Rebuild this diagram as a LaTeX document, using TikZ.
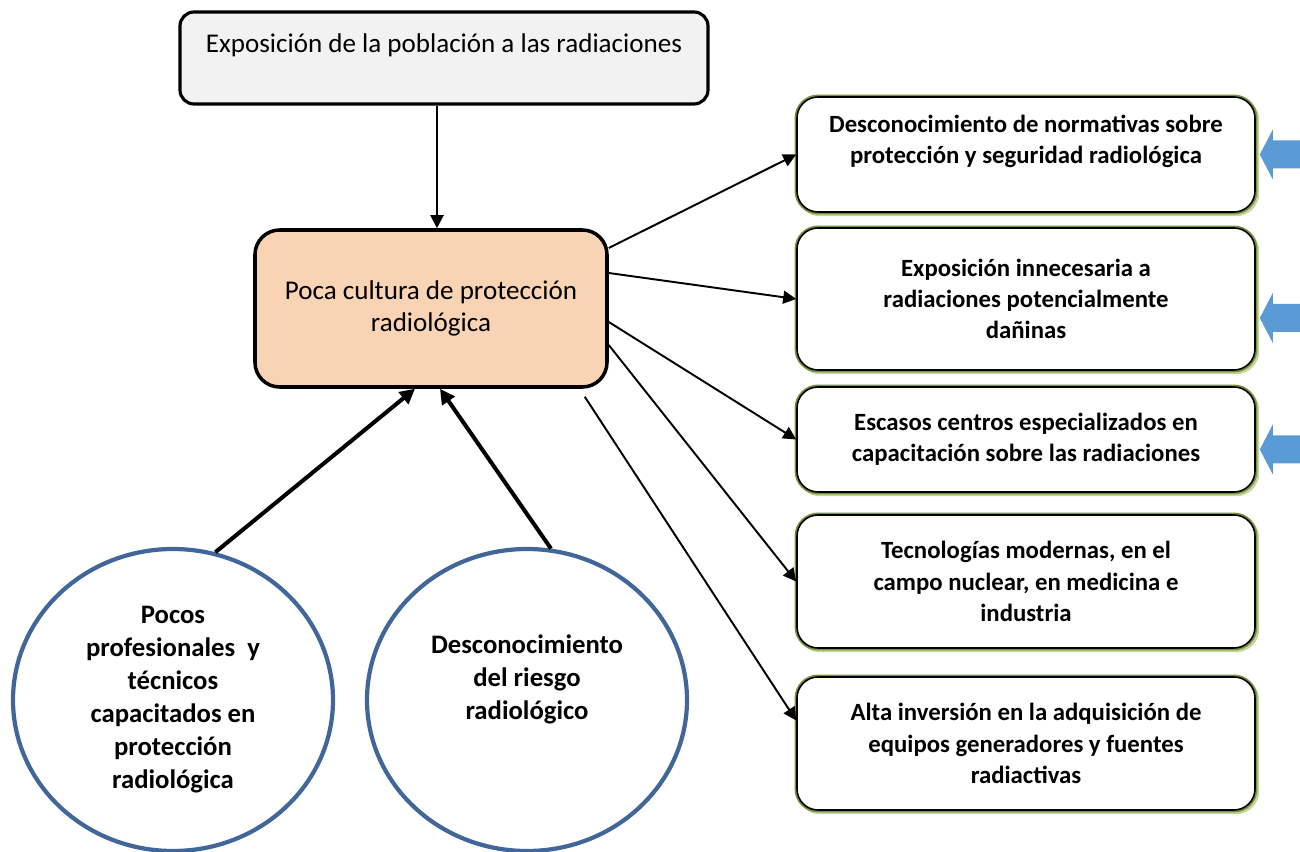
\documentclass[tikz,border=0pt]{standalone}
\usepackage{fontspec}
\setmainfont{Carlito}
\usetikzlibrary{positioning, arrows.meta, shapes.geometric}
\definecolor{peach}{HTML}{F9D4B4}
\definecolor{lightgray}{HTML}{F2F2F2}
\definecolor{olivegreen}{HTML}{76923C}
\definecolor{limegreen}{HTML}{C3D69B}
\definecolor{circblue}{HTML}{41679A}
\definecolor{arrowblue}{HTML}{5B9BD5}
\tikzset{
    topbox/.style={rectangle, rounded corners=8pt, draw=black, line width=1.8pt, fill=lightgray, minimum width=10.56cm, minimum height=1.84cm, align=center, font=\fontsize{15.4}{17}\selectfont},
    mainbox/.style={rectangle, rounded corners=14pt, draw=black, line width=2pt, fill=peach, minimum width=7.04cm, minimum height=3.14cm, align=center, font=\fontsize{15.4}{18}\selectfont},
    effect/.style={rectangle, rounded corners=12pt, draw=black, line width=0.9pt, fill=white, minimum width=9.16cm, align=center, font=\bfseries\fontsize{14.1}{17.8}\selectfont,
        preaction={draw=limegreen, line width=2.4pt, transform canvas={shift={(1.2pt,-1.2pt)}}},
        preaction={draw=olivegreen, line width=2.8pt}},
    cause/.style={ellipse, draw=circblue, line width=2.4pt, fill=white, minimum width=6.4cm, minimum height=6.04cm, align=center, inner sep=0pt, font=\bfseries\fontsize{15.2}{18.8}\selectfont},
    link/.style={-{Triangle[length=2.6mm, width=2.6mm]}, line width=1.1pt},
    strong/.style={-{Triangle[length=3mm, width=3mm]}, line width=2.3pt},
    bluearrow/.style={fill=arrowblue}
}

\begin{document}
\begin{tikzpicture}
\useasboundingbox (0,0) rectangle (26,-17.04);

% --- Top and central boxes ---
\node[topbox] (expo) at (8.88,-1.16) {Exposición de la población a las radiaciones\\[-5pt] \strut};
\node[mainbox] (cultura) at (8.62,-6.17) {Poca cultura de protección\\radiológica};

% --- Effects (right column) ---
\node[effect, minimum height=2.3cm] (norm) at (20.52,-3.09) {Desconocimiento de normativas sobre\\protección y seguridad radiológica\\[-6pt]\strut};
\node[effect, minimum height=2.84cm] (innec) at (20.52,-5.98) {Exposición innecesaria a\\radiaciones potencialmente\\dañinas};
\node[effect, minimum height=2.1cm] (centros) at (20.52,-8.79) {Escasos centros especializados en\\capacitación sobre las radiaciones};
\node[effect, minimum height=2.66cm] (tecno) at (20.52,-11.63) {Tecnologías modernas, en el\\campo nuclear, en medicina e\\industria};
\node[effect, minimum height=2.66cm] (inver) at (20.52,-14.87) {Alta inversión en la adquisición de\\equipos generadores y fuentes\\radiactivas};

% --- Causes (circles) ---
\node[cause] (pocos) at (3.46,-14.0) {Pocos\\profesionales~ y\\técnicos\\capacitados en\\protección\\radiológica};
\node[cause] (riesgo) at (10.54,-14.0) {Desconocimiento\\del riesgo\\radiológico\\[2pt]\strut};

% --- Connectors ---
\draw[link] ([xshift=-0.14cm]expo.south) -- ([xshift=-0.14cm]expo.south |- cultura.north);
\draw[strong] (pocos.74) -- ([xshift=-0.32cm]cultura.south);
\draw[strong] (riesgo.81) -- ([xshift=0.18cm]cultura.south);

\draw[link] ([yshift=1.21cm]cultura.east) -- (norm.west);
\draw[link] ([yshift=0.71cm]cultura.east) -- (innec.west);
\draw[link] ([yshift=-0.27cm]cultura.east) -- (centros.west);
\draw[link] ([yshift=-0.73cm]cultura.east) -- (tecno.west);
\draw[link] ([xshift=-0.48cm,yshift=-0.16cm]cultura.south east) -- ([yshift=0.46cm]inver.west);

% --- Blue pointers at the right edge ---
\fill[bluearrow] ([xshift=0.08cm]norm.east) -- ++(0.26,0.5) -- ++(0,-0.22) -- ++(1,0) -- ++(0,-0.56) -- ++(-1,0) -- ++(0,-0.22) -- cycle;
\fill[bluearrow] ([xshift=0.08cm,yshift=-0.38cm]innec.east) -- ++(0.26,0.5) -- ++(0,-0.22) -- ++(1,0) -- ++(0,-0.56) -- ++(-1,0) -- ++(0,-0.22) -- cycle;
\fill[bluearrow] ([xshift=0.08cm,yshift=-0.2cm]centros.east) -- ++(0.26,0.5) -- ++(0,-0.22) -- ++(1,0) -- ++(0,-0.56) -- ++(-1,0) -- ++(0,-0.22) -- cycle;

\end{tikzpicture}
\end{document}
